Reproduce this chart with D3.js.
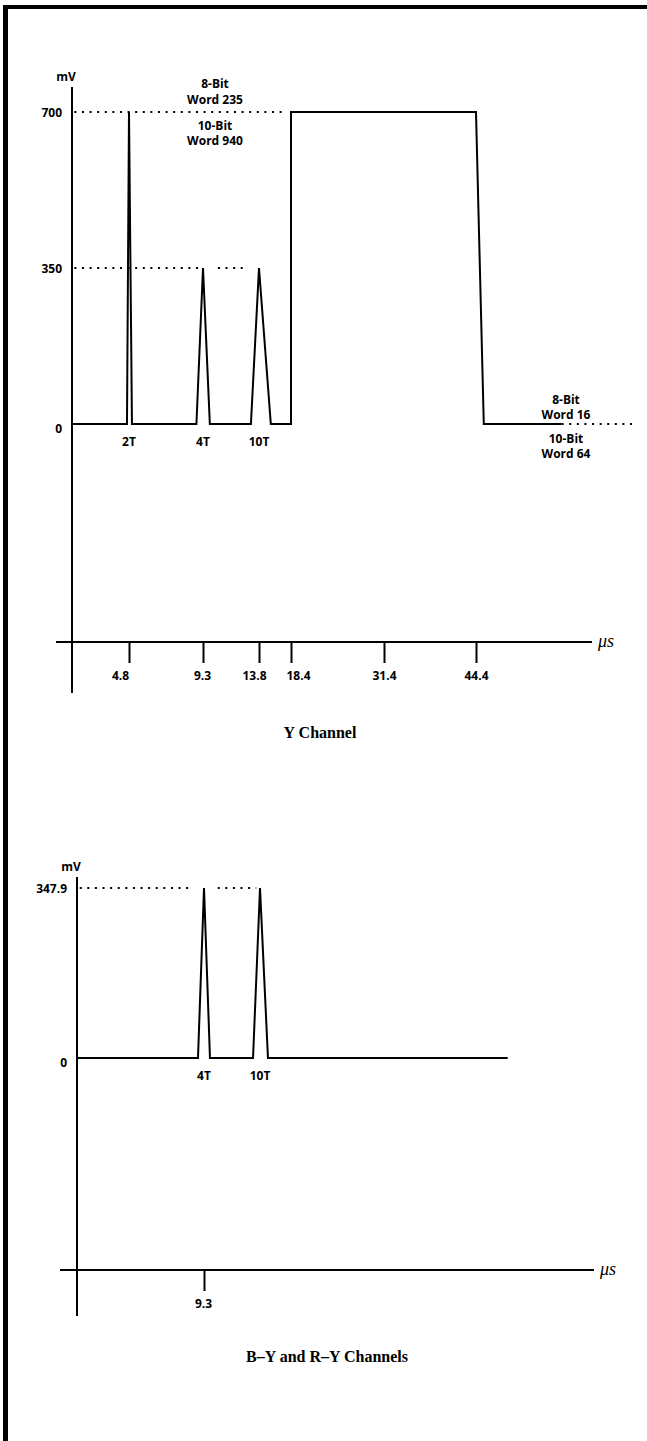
<!DOCTYPE html>
<html>
<head>
<meta charset="utf-8">
<script src="https://cdn.jsdelivr.net/npm/d3@7"></script>
<style>
body { margin: 0; background: #fff; }
svg { display: block; }
.lbl { font-family: "Open Sans", "DejaVu Sans", sans-serif; font-weight: 700; font-size: 12px; fill: #000; }
.title { font-family: "Liberation Serif", "DejaVu Serif", serif; font-weight: 700; font-size: 16px; fill: #000; }
.unit { font-family: "Liberation Serif", "DejaVu Serif", serif; font-style: italic; font-size: 18px; fill: #000; }
.wave { fill: none; stroke: #000; stroke-width: 2; stroke-linejoin: miter; }
.dots { fill: none; stroke: #000; stroke-width: 2; stroke-dasharray: 2 5.6; }
.axis path, .axis line { stroke: #000; stroke-width: 2; }
</style>
</head>
<body>
<script>
// Y channel: waveform as [time (us), level (mV)]
var yWave = [[0, 0], [4.63, 0], [4.8, 700], [4.98, 0], [8.9, 0], [9.3, 350], [9.85, 0],
	[13.15, 0], [13.8, 350], [15.5, 0], [18.4, 0], [18.4, 700], [44.4, 700], [45.5, 0], [56.5, 0]];
var yTail = [[56.5, 0], [66.6, 0]]; // dotted continuation of blanking level
var yTicksX = [4.8, 9.3, 13.8, 18.4, 31.4, 44.4];
var yTicksY = [0, 350, 700];
var yRefs = [[700, 0.2, 17.6], [350, 0.2, 9.05], [350, 10.5, 12.9]]; // level, from, to
var yPulseNames = [["2T", 4.8], ["4T", 9.3], ["10T", 13.8]];

// B-Y and R-Y channels
var cWave = [[0, 0], [8.86, 0], [9.3, 347.9], [9.78, 0], [13.24, 0], [13.8, 347.9], [14.44, 0], [33.7, 0]];
var cTicksX = [9.3];
var cTicksY = [0, 347.9];
var cRefs = [[347.9, 0.2, 8.45], [347.9, 10.4, 13.5]];
var cPulseNames = [["4T", 9.3], ["10T", 13.8]];

// tick labels sit a little off their ticks where they crowd
var labelShift = {"4.8": -9, "13.8": -5, "18.4": 7, "9.3": -1};

var W = 647, H = 1441;
var svg = d3.select("body").append("svg")
	.attr("width", W)
	.attr("height", H);

// page frame (top and left rule only)
svg.append("path")
	.attr("d", "M3,7H647")
	.attr("stroke", "#000")
	.attr("stroke-width", 4);
svg.append("path")
	.attr("d", "M5.5,5V1441")
	.attr("stroke", "#000")
	.attr("stroke-width", 5);

var drawPanel = function(p) {
	var x = p.x, y = p.y;
	var line = d3.line()
		.x(function(d) { return x(d[0]); })
		.y(function(d) { return y(d[1]); });
	var g = svg.append("g");

	// axes drawn as plain rules, ticks through d3.axis
	g.append("line")
		.attr("x1", x(0)).attr("x2", x(0))
		.attr("y1", p.yTop).attr("y2", p.yBottom)
		.attr("stroke", "#000").attr("stroke-width", 2);
	g.append("line")
		.attr("x1", p.xLeft).attr("x2", p.xRight)
		.attr("y1", p.axisY).attr("y2", p.axisY)
		.attr("stroke", "#000").attr("stroke-width", 2);

	var xAxis = d3.axisBottom(x)
		.tickValues(p.ticksX)
		.tickSize(21)
		.tickPadding(8)
		.tickFormat(d3.format(".1f"));
	var ax = g.append("g")
		.attr("class", "axis")
		.attr("transform", "translate(0," + p.axisY + ")")
		.call(xAxis);
	ax.select(".domain").remove();
	ax.selectAll("text").attr("class", "lbl").attr("font-size", null).attr("font-family", null)
		.attr("dx", function(d) { return labelShift[d3.format(".1f")(d)] || 0; });

	var yAxis = d3.axisLeft(y)
		.tickValues(p.ticksY)
		.tickSize(0)
		.tickPadding(10)
		.tickFormat(function(d) { return d === 0 ? "0" : String(d); });
	var ay = g.append("g")
		.attr("class", "axis")
		.attr("transform", "translate(" + x(0) + ",0)")
		.call(yAxis);
	ay.select(".domain").remove();
	ay.selectAll("text").attr("class", "lbl").attr("font-size", null).attr("font-family", null)
		.attr("dy", function(d) { return d === 0 ? "0.7em" : "0.35em"; });

	g.append("text")
		.attr("class", "lbl")
		.attr("x", x(0) - 6).attr("y", p.yTop - 6)
		.attr("text-anchor", "middle")
		.text("mV");
	g.append("text")
		.attr("class", "unit")
		.attr("x", p.xRight + 6).attr("y", p.axisY + 5)
		.text("\u03bcs");

	// dotted reference levels
	g.selectAll("path.ref")
		.data(p.refs)
		.enter().append("path")
		.attr("class", "dots")
		.attr("d", function(d) { return line([[d[1], d[0]], [d[2], d[0]]]); });
	if (p.tail) {
		g.append("path").attr("class", "dots").attr("d", line(p.tail));
	}

	g.append("path")
		.attr("class", "wave")
		.attr("d", line(p.wave));

	g.selectAll("text.pulse")
		.data(p.pulses)
		.enter().append("text")
		.attr("class", "lbl")
		.attr("x", function(d) { return x(d[1]); })
		.attr("y", y(0) + 22)
		.attr("text-anchor", "middle")
		.text(function(d) { return d[0]; });

	g.append("text")
		.attr("class", "title")
		.attr("x", p.titleX).attr("y", p.titleY)
		.attr("text-anchor", "middle")
		.text(p.title);
	return g;
};

// schematic time axis: not drawn to scale, so the scale is piecewise
var xY = d3.scaleLinear()
	.domain([0, 4.8, 9.3, 13.8, 18.4, 31.4, 44.4])
	.range([72, 129, 203, 259, 291, 384, 476]);
var yY = d3.scaleLinear().domain([0, 700]).range([424, 112]);

var gY = drawPanel({
	x: xY, y: yY, wave: yWave, tail: yTail, refs: yRefs,
	ticksX: yTicksX, ticksY: yTicksY, pulses: yPulseNames,
	yTop: 87, yBottom: 693, axisY: 642, xLeft: 56, xRight: 592,
	title: "Y Channel", titleX: 320, titleY: 738
});

// digital word annotations
var wordNotes = [
	["8-Bit", 215, 88], ["Word 235", 215, 104], ["10-Bit", 215, 130], ["Word 940", 215, 145],
	["8-Bit", 566, 404], ["Word 16", 566, 419], ["10-Bit", 566, 443], ["Word 64", 566, 458]
];
gY.selectAll("text.note")
	.data(wordNotes)
	.enter().append("text")
	.attr("class", "lbl")
	.attr("x", function(d) { return d[1]; })
	.attr("y", function(d) { return d[2]; })
	.attr("text-anchor", "middle")
	.text(function(d) { return d[0]; });

var xC = d3.scaleLinear()
	.domain([0, 9.3, 13.8])
	.range([77, 204, 260]);
var yC = d3.scaleLinear().domain([0, 347.9]).range([1058, 888]);

drawPanel({
	x: xC, y: yC, wave: cWave, tail: null, refs: cRefs,
	ticksX: cTicksX, ticksY: cTicksY, pulses: cPulseNames,
	yTop: 877, yBottom: 1316, axisY: 1270, xLeft: 60, xRight: 594,
	title: "B\u2013Y and R\u2013Y Channels", titleX: 327, titleY: 1362
});
</script>
</body>
</html>
